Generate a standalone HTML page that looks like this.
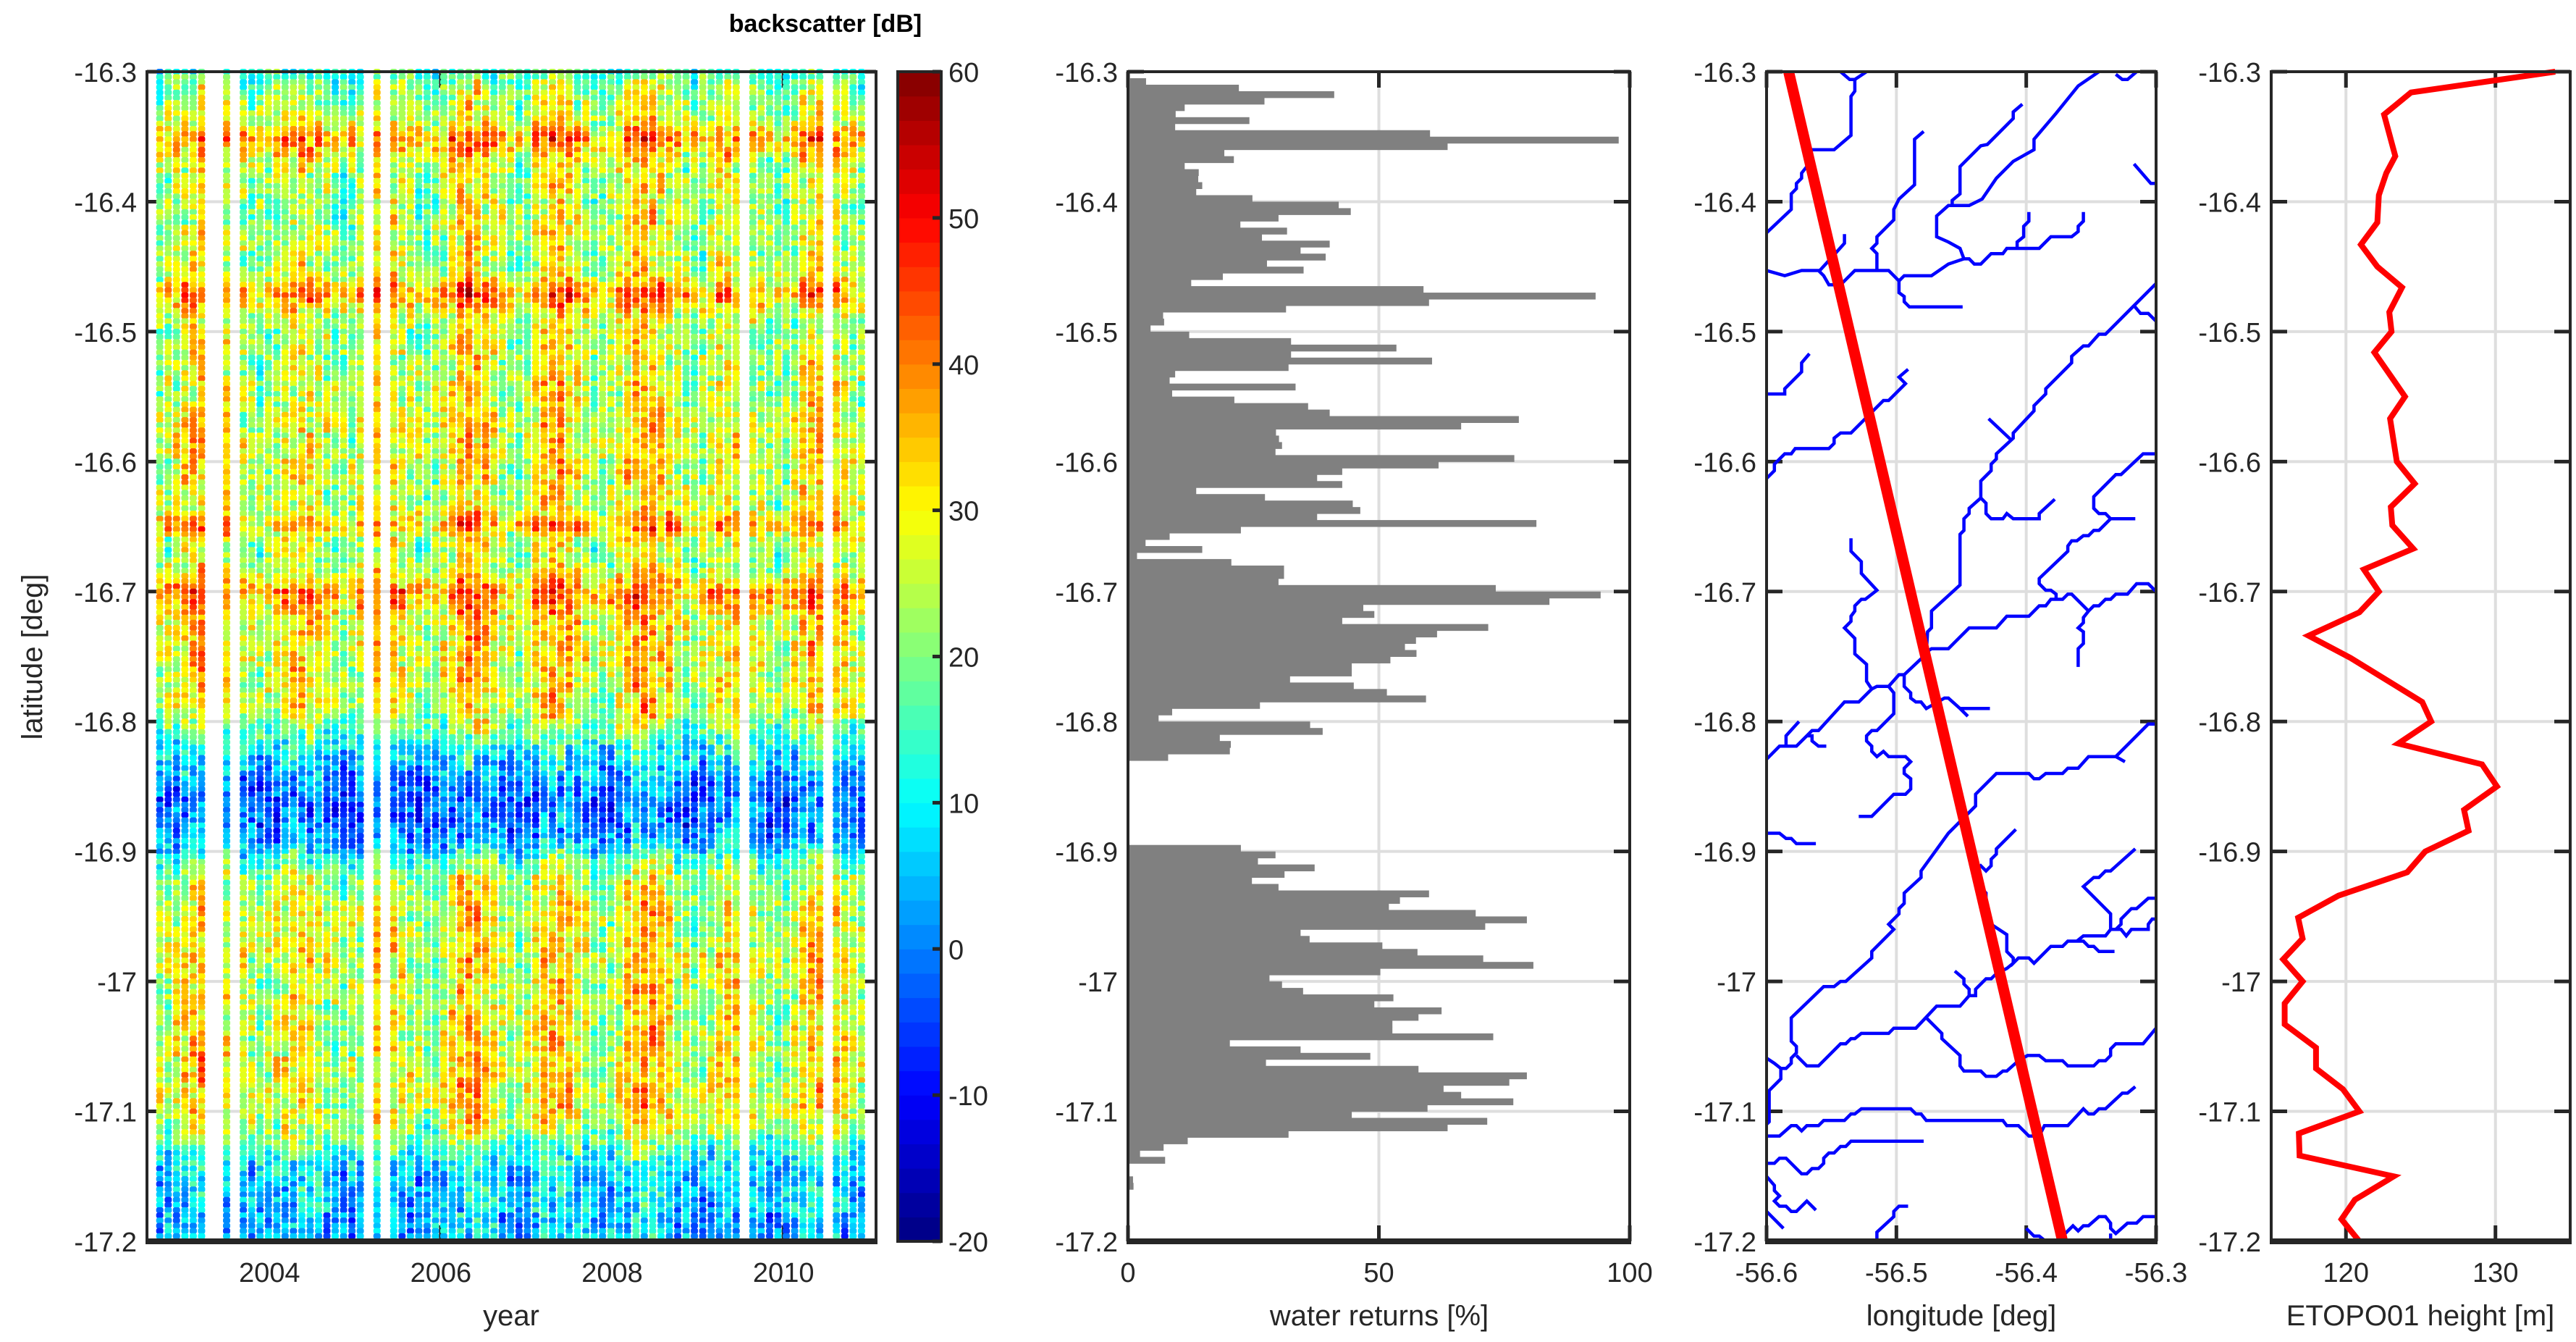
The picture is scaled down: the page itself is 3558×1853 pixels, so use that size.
<!DOCTYPE html>
<html><head><meta charset="utf-8"><style>
html,body{margin:0;padding:0;background:#fff}
svg{display:block;font-family:"Liberation Sans",Arial,sans-serif}
.tk{font-size:38px;fill:#262626}
.al{font-size:40px;fill:#262626}
</style></head><body>
<svg id="fig" xmlns="http://www.w3.org/2000/svg" width="3558" height="1853" viewBox="0 0 3558 1853">
<rect width="3558" height="1853" fill="#fff"/>
<g id="hm"></g>
<g id="cb"></g>
<g id="wr"></g>
<g id="lo"></g>
<g id="et"></g>
<text x="1140" y="44" text-anchor="middle" font-weight="bold" font-size="34" fill="#000">backscatter [dB]</text>
<text transform="translate(58,907) rotate(-90)" text-anchor="middle" class="al">latitude [deg]</text>
<text x="706" y="1830" text-anchor="middle" class="al">year</text>
<text x="1905" y="1830" text-anchor="middle" class="al">water returns [%]</text>
<text x="2709" y="1830" text-anchor="middle" class="al">longitude [deg]</text>
<text x="3343" y="1830" text-anchor="middle" class="al">ETOPO01 height [m]</text>
</svg>
<script>
const latTicks=[-16.3,-16.4,-16.5,-16.6,-16.7,-16.8,-16.9,-17.0,-17.1,-17.2];
const latTickLabels=["-16.3","-16.4","-16.5","-16.6","-16.7","-16.8","-16.9","-17","-17.1","-17.2"];
const yearTicks=[2004,2006,2008,2010];
const cbTicks=[-20,-10,0,10,20,30,40,50,60];
const waterTicks=[0,50,100];
const lonTicks=[-56.6,-56.5,-56.4,-56.3];
const lonTickLabels=["-56.6","-56.5","-56.4","-56.3"];
const etopoTicks=[120,130];
// backscatter: mean profile per 0.01 deg latitude (-16.30 .. -17.20)
const bsProfile=[15,20,23,25,28,40,34,27,25,25,24,25,25,24,24,25,29,40,33,25,24,25,26,26,27,26,27,28,28,29,28,28,27,26,30,38,27,23,25,32,41,36,31,30,30,30,29,29,28,27,23,17,11,7,4,1,-1,-1,0,2,10,18,23,25,27,28,27,27,30,28,27,26,27,28,27,28,29,29,29,29,28,25,21,14,9,7,6,6,5,5,5];
// per-cycle anomaly (dB) for each altimeter pass column
const bsCycleAnom=[-6,-4,-2,2,5, 8,7,5,2,-1, -4,-6,-7,-5,-2,1, 4,4,2,-1,-4, -7,-8,-6,-3,1, 4,4,2,-1,-4, -6,-8,-6,-2,3,8, 10,9,6,2,-2, -5,-7,-4,2,7, 10,9,6,2,-2, -5,-7,-6,-1,5,10, 12,10,6,2,-2, -6,-8,-6,-2,2, 4,3,1,-2,-5, -7,-8,-6,-2,3,7, 8,6,3,0,-3,-5];
const bsMissing=[6,7,9,25,27,70,80];
const bsStartYear=2002.72, bsCycleYears=0.0975;
// water returns per 0.005 deg bin
const waterPct=[0,3.6,22.1,41.1,27.2,11.3,9.5,24.2,9.4,60.2,97.8,63.7,19.2,21.1,11.3,14.1,14.0,14.8,13.6,24.8,
42.0,44.4,30.0,22.4,31.7,26.7,40.2,34.4,39.4,27.7,35.0,18.9,12.6,58.9,93.2,60.0,31.5,7.0,7.2,4.5,
12.2,32.5,53.5,32.5,60.6,32.0,9.4,8.3,33.4,8.8,21.2,35.9,40.2,77.9,66.4,29.5,30.1,30.7,29.4,77.0,
61.9,42.7,37.7,42.7,13.6,27.3,44.8,46.3,37.7,81.4,22.5,8.3,3.5,14.8,1.8,20.6,31.1,31.1,30.0,73.3,
94.2,84.0,46.9,49.1,42.7,71.8,61.6,57.4,55.2,57.5,52.3,44.6,44.6,32.3,45.0,51.6,59.4,26.3,8.8,6.1,
36.3,38.8,18.3,20.5,20.3,8.0,0,0,0,0,0,0,0,0,0,0,0,0,0,22.5,
29.4,25.9,37.2,31.2,24.7,30.0,60.0,54.2,52.0,69.3,79.5,71.2,34.4,36.2,50.7,57.7,70.8,80.8,50.3,28.2,
30.7,34.9,52.9,49.1,62.5,57.9,52.7,52.7,72.8,20.3,34.4,48.3,27.5,57.9,79.5,76.0,62.9,66.4,76.8,59.7,
44.6,71.6,63.7,32.0,11.9,7.1,2.4,7.4,0,0,1.0,1.1,0,0,0,0,0,0,0,0];
const waterBin=0.005;
// ETOPO01 profile
const etopoLat=[-16.300,-16.316,-16.333,-16.365,-16.378,-16.395,-16.416,-16.433,-16.450,-16.466,-16.485,-16.500,-16.516,-16.535,-16.550,-16.567,-16.600,-16.617,-16.635,-16.649,-16.667,-16.683,-16.700,-16.716,-16.734,-16.751,-16.785,-16.800,-16.817,-16.833,-16.850,-16.868,-16.884,-16.900,-16.916,-16.934,-16.951,-16.967,-16.983,-17.000,-17.017,-17.033,-17.051,-17.067,-17.083,-17.100,-17.117,-17.134,-17.150,-17.168,-17.183,-17.200];
const etopoH=[134.0,124.35,122.55,123.3,122.7,122.2,122.1,121.0,122.1,123.75,122.9,123.05,121.9,123.05,123.95,122.95,123.4,124.6,123.0,123.1,124.5,121.2,122.2,120.9,117.5,120.3,125.1,125.7,123.5,129.1,130.1,127.9,128.2,125.3,124.1,119.5,116.8,117.1,115.8,117.1,115.9,115.9,118.0,118.0,119.8,120.9,116.85,116.9,123.2,120.6,119.7,120.9];
// satellite ground track
const trackLon=[-56.583,-56.372];
const trackLat=[-16.300,-17.200];
// river network polylines [lon,lat]
const rivers=[
[[-56.344,-16.300],[-56.360,-16.311],[-56.377,-16.332],[-56.394,-16.352],[-56.394,-16.360],[-56.410,-16.369],[-56.423,-16.382],[-56.434,-16.398],[-56.444,-16.403],[-56.460,-16.403],[-56.469,-16.411],[-56.469,-16.427],[-56.460,-16.431],[-56.451,-16.436],[-56.448,-16.444],[-56.460,-16.448],[-56.473,-16.457],[-56.494,-16.457],[-56.498,-16.461],[-56.506,-16.453],[-56.532,-16.453],[-56.543,-16.464],[-56.552,-16.464],[-56.556,-16.457],[-56.560,-16.453],[-56.573,-16.453],[-56.586,-16.457],[-56.600,-16.453]],
[[-56.543,-16.300],[-56.536,-16.306],[-56.532,-16.306],[-56.532,-16.315],[-56.535,-16.319],[-56.535,-16.349],[-56.548,-16.360],[-56.567,-16.360],[-56.569,-16.365],[-56.569,-16.373],[-56.573,-16.378],[-56.573,-16.382],[-56.577,-16.386],[-56.577,-16.390],[-56.581,-16.394],[-56.581,-16.406],[-56.600,-16.424]],
[[-56.532,-16.306],[-56.523,-16.300]],
[[-56.479,-16.346],[-56.486,-16.352],[-56.486,-16.387],[-56.498,-16.398],[-56.502,-16.406],[-56.502,-16.414],[-56.515,-16.427],[-56.515,-16.432],[-56.519,-16.436],[-56.515,-16.440],[-56.515,-16.453]],
[[-56.403,-16.325],[-56.410,-16.331],[-56.410,-16.336],[-56.430,-16.356],[-56.435,-16.357],[-56.451,-16.373],[-56.451,-16.394],[-56.457,-16.399],[-56.457,-16.403]],
[[-56.448,-16.444],[-56.444,-16.444],[-56.440,-16.448],[-56.435,-16.448],[-56.427,-16.440],[-56.418,-16.440],[-56.415,-16.436],[-56.390,-16.436],[-56.381,-16.427],[-56.365,-16.427],[-56.360,-16.423],[-56.360,-16.419],[-56.356,-16.415],[-56.356,-16.408]],
[[-56.407,-16.436],[-56.407,-16.431],[-56.402,-16.427],[-56.402,-16.419],[-56.398,-16.415],[-56.398,-16.408]],
[[-56.559,-16.453],[-56.549,-16.442],[-56.540,-16.432],[-56.540,-16.425]],
[[-56.498,-16.461],[-56.498,-16.470],[-56.494,-16.473],[-56.494,-16.477],[-56.490,-16.481],[-56.449,-16.481]],
[[-56.300,-16.463],[-56.317,-16.480],[-56.339,-16.502],[-56.344,-16.502],[-56.352,-16.511],[-56.356,-16.511],[-56.365,-16.519],[-56.365,-16.524],[-56.385,-16.544],[-56.385,-16.548],[-56.394,-16.557],[-56.394,-16.561],[-56.410,-16.578],[-56.410,-16.582],[-56.423,-16.594],[-56.423,-16.598],[-56.427,-16.602],[-56.427,-16.607],[-56.435,-16.615],[-56.435,-16.628],[-56.444,-16.636],[-56.444,-16.640],[-56.448,-16.644],[-56.448,-16.653],[-56.451,-16.656],[-56.451,-16.695],[-56.473,-16.715],[-56.473,-16.728],[-56.476,-16.731],[-56.477,-16.748],[-56.494,-16.764],[-56.498,-16.764],[-56.506,-16.773],[-56.515,-16.773],[-56.519,-16.775]],
[[-56.317,-16.480],[-56.312,-16.486],[-56.306,-16.486],[-56.300,-16.492]],
[[-56.412,-16.583],[-56.429,-16.567]],
[[-56.435,-16.628],[-56.431,-16.632],[-56.431,-16.640],[-56.427,-16.644],[-56.418,-16.644],[-56.415,-16.640],[-56.410,-16.644],[-56.390,-16.644],[-56.390,-16.640],[-56.378,-16.629]],
[[-56.300,-16.594],[-56.310,-16.594],[-56.327,-16.610],[-56.331,-16.610],[-56.348,-16.627],[-56.348,-16.636],[-56.344,-16.640],[-56.339,-16.640],[-56.335,-16.644],[-56.316,-16.644]],
[[-56.335,-16.644],[-56.344,-16.653],[-56.348,-16.653],[-56.352,-16.657],[-56.356,-16.657],[-56.361,-16.661],[-56.365,-16.661],[-56.368,-16.665],[-56.368,-16.669],[-56.390,-16.690],[-56.390,-16.694],[-56.385,-16.699],[-56.381,-16.699],[-56.377,-16.702],[-56.377,-16.706]],
[[-56.300,-16.700],[-56.306,-16.694],[-56.315,-16.694],[-56.322,-16.702],[-56.331,-16.702],[-56.335,-16.706],[-56.339,-16.706],[-56.344,-16.711],[-56.348,-16.711],[-56.352,-16.715],[-56.356,-16.720],[-56.356,-16.724],[-56.360,-16.728],[-56.356,-16.731],[-56.356,-16.740],[-56.360,-16.744],[-56.360,-16.758]],
[[-56.352,-16.715],[-56.365,-16.702],[-56.368,-16.702],[-56.372,-16.706],[-56.381,-16.706],[-56.385,-16.711],[-56.390,-16.711],[-56.398,-16.719],[-56.415,-16.719],[-56.423,-16.728],[-56.444,-16.728],[-56.460,-16.744],[-56.473,-16.744],[-56.476,-16.746]],
[[-56.317,-16.371],[-56.304,-16.386],[-56.300,-16.386]],
[[-56.331,-16.302],[-56.326,-16.306],[-56.322,-16.306],[-56.315,-16.300]],
[[-56.567,-16.517],[-56.573,-16.524],[-56.573,-16.531],[-56.586,-16.544],[-56.586,-16.548],[-56.600,-16.548]],
[[-56.491,-16.529],[-56.498,-16.535],[-56.493,-16.540],[-56.506,-16.553],[-56.510,-16.553],[-56.535,-16.578],[-56.543,-16.578],[-56.548,-16.582],[-56.548,-16.586],[-56.552,-16.590],[-56.578,-16.590],[-56.581,-16.594],[-56.586,-16.594],[-56.594,-16.602],[-56.594,-16.607],[-56.600,-16.613]],
[[-56.535,-16.659],[-56.535,-16.669],[-56.527,-16.677],[-56.527,-16.686],[-56.515,-16.699],[-56.524,-16.706],[-56.527,-16.706],[-56.532,-16.711],[-56.532,-16.715],[-56.535,-16.719],[-56.535,-16.723],[-56.540,-16.728],[-56.532,-16.736],[-56.532,-16.748],[-56.523,-16.756],[-56.523,-16.769],[-56.519,-16.775]],
[[-56.506,-16.773],[-56.502,-16.778],[-56.502,-16.794],[-56.515,-16.807],[-56.519,-16.807],[-56.523,-16.811],[-56.523,-16.815],[-56.519,-16.819],[-56.519,-16.823],[-56.515,-16.827],[-56.510,-16.823],[-56.506,-16.827],[-56.493,-16.827],[-56.489,-16.831],[-56.494,-16.836],[-56.494,-16.840],[-56.489,-16.844],[-56.489,-16.852],[-56.493,-16.856],[-56.502,-16.856],[-56.519,-16.873],[-56.529,-16.873]],
[[-56.494,-16.764],[-56.494,-16.773],[-56.489,-16.778],[-56.489,-16.782],[-56.485,-16.785],[-56.481,-16.785],[-56.477,-16.790],[-56.463,-16.782],[-56.460,-16.782],[-56.451,-16.790],[-56.428,-16.790]],
[[-56.451,-16.790],[-56.445,-16.796]],
[[-56.575,-16.800],[-56.585,-16.811],[-56.585,-16.819],[-56.590,-16.819],[-56.600,-16.829]],
[[-56.585,-16.819],[-56.577,-16.819],[-56.569,-16.811],[-56.565,-16.807],[-56.560,-16.807],[-56.540,-16.785],[-56.529,-16.785],[-56.519,-16.775]],
[[-56.569,-16.811],[-56.565,-16.811],[-56.565,-16.815],[-56.560,-16.819],[-56.554,-16.819]],
[[-56.600,-16.886],[-56.590,-16.886],[-56.585,-16.890],[-56.581,-16.890],[-56.577,-16.894],[-56.562,-16.894]],
[[-56.300,-16.802],[-56.306,-16.802],[-56.331,-16.827],[-56.324,-16.831],[-56.331,-16.827],[-56.352,-16.827],[-56.360,-16.836],[-56.368,-16.836],[-56.372,-16.840],[-56.385,-16.840],[-56.390,-16.844],[-56.394,-16.844],[-56.398,-16.840],[-56.423,-16.840],[-56.439,-16.856],[-56.439,-16.865],[-56.451,-16.877],[-56.460,-16.886],[-56.481,-16.915],[-56.481,-16.920],[-56.494,-16.932],[-56.494,-16.940],[-56.498,-16.944],[-56.498,-16.948],[-56.506,-16.956],[-56.502,-16.960],[-56.519,-16.977],[-56.519,-16.982],[-56.539,-17.000],[-56.543,-17.000],[-56.548,-17.004],[-56.556,-17.004],[-56.581,-17.028],[-56.581,-17.046],[-56.577,-17.050],[-56.577,-17.055],[-56.581,-17.059],[-56.581,-17.063],[-56.585,-17.067],[-56.589,-17.067],[-56.589,-17.075],[-56.598,-17.084],[-56.598,-17.108],[-56.600,-17.110]],
[[-56.589,-17.067],[-56.594,-17.063],[-56.600,-17.059]],
[[-56.408,-16.883],[-56.423,-16.898],[-56.423,-16.902],[-56.427,-16.906],[-56.427,-16.911],[-56.431,-16.915],[-56.435,-16.911],[-56.439,-16.915],[-56.439,-16.920],[-56.435,-16.924],[-56.435,-16.928],[-56.431,-16.932],[-56.431,-16.952],[-56.427,-16.956],[-56.415,-16.964],[-56.415,-16.977],[-56.410,-16.982],[-56.410,-16.986],[-56.406,-16.982],[-56.398,-16.982],[-56.394,-16.986],[-56.381,-16.973],[-56.372,-16.973],[-56.368,-16.969],[-56.356,-16.969],[-56.352,-16.973],[-56.348,-16.973],[-56.344,-16.977],[-56.332,-16.977]],
[[-56.361,-16.969],[-56.356,-16.965],[-56.339,-16.965],[-56.335,-16.960],[-56.335,-16.948],[-56.356,-16.927],[-56.348,-16.920],[-56.344,-16.920],[-56.339,-16.915],[-56.335,-16.915],[-56.316,-16.898]],
[[-56.335,-16.960],[-56.327,-16.960],[-56.323,-16.965],[-56.319,-16.960],[-56.306,-16.960],[-56.306,-16.956],[-56.303,-16.952],[-56.300,-16.952]],
[[-56.331,-16.960],[-56.327,-16.956],[-56.327,-16.952],[-56.319,-16.944],[-56.315,-16.944],[-56.306,-16.936],[-56.300,-16.936]],
[[-56.410,-16.986],[-56.415,-16.990],[-56.423,-16.994],[-56.427,-16.998],[-56.431,-16.998],[-56.439,-17.006],[-56.439,-17.011],[-56.444,-17.011],[-56.444,-17.006],[-56.448,-17.002],[-56.448,-16.998],[-56.455,-16.992]],
[[-56.444,-17.011],[-56.451,-17.019],[-56.469,-17.019],[-56.485,-17.036],[-56.502,-17.036],[-56.506,-17.040],[-56.527,-17.040],[-56.532,-17.044],[-56.535,-17.044],[-56.539,-17.048],[-56.543,-17.048],[-56.560,-17.065],[-56.569,-17.065],[-56.577,-17.057]],
[[-56.477,-17.028],[-56.465,-17.040],[-56.465,-17.044],[-56.451,-17.057],[-56.451,-17.065],[-56.448,-17.069],[-56.435,-17.069],[-56.431,-17.073],[-56.423,-17.073],[-56.418,-17.069],[-56.415,-17.069],[-56.406,-17.061],[-56.399,-17.057],[-56.390,-17.057],[-56.385,-17.061],[-56.372,-17.061],[-56.368,-17.065],[-56.348,-17.065],[-56.344,-17.061],[-56.339,-17.061],[-56.335,-17.057],[-56.335,-17.052],[-56.331,-17.048],[-56.310,-17.048],[-56.300,-17.036]],
[[-56.600,-17.119],[-56.590,-17.119],[-56.581,-17.111],[-56.577,-17.111],[-56.573,-17.115],[-56.569,-17.111],[-56.560,-17.111],[-56.556,-17.107],[-56.540,-17.107],[-56.535,-17.102],[-56.532,-17.102],[-56.527,-17.098],[-56.489,-17.098],[-56.485,-17.102],[-56.481,-17.102],[-56.477,-17.107],[-56.418,-17.107],[-56.415,-17.111],[-56.406,-17.111],[-56.398,-17.119],[-56.390,-17.119],[-56.386,-17.111],[-56.368,-17.111],[-56.356,-17.098],[-56.352,-17.102],[-56.348,-17.102],[-56.344,-17.098],[-56.339,-17.098],[-56.326,-17.086],[-56.322,-17.086],[-56.316,-17.081]],
[[-56.600,-17.140],[-56.594,-17.140],[-56.590,-17.136],[-56.585,-17.136],[-56.573,-17.148],[-56.569,-17.148],[-56.565,-17.144],[-56.560,-17.144],[-56.556,-17.140],[-56.556,-17.136],[-56.552,-17.132],[-56.548,-17.132],[-56.543,-17.127],[-56.539,-17.127],[-56.535,-17.123],[-56.479,-17.123]],
[[-56.600,-17.150],[-56.594,-17.157],[-56.594,-17.161],[-56.590,-17.165],[-56.594,-17.169],[-56.590,-17.173],[-56.585,-17.173],[-56.581,-17.177],[-56.577,-17.177],[-56.569,-17.169],[-56.562,-17.176]],
[[-56.600,-17.177],[-56.587,-17.190]],
[[-56.515,-17.201],[-56.515,-17.193],[-56.502,-17.181],[-56.502,-17.177],[-56.498,-17.173],[-56.491,-17.173]],
[[-56.400,-17.190],[-56.394,-17.196],[-56.390,-17.196],[-56.385,-17.200],[-56.377,-17.200],[-56.372,-17.196],[-56.368,-17.192],[-56.364,-17.188],[-56.360,-17.192],[-56.356,-17.188],[-56.352,-17.188],[-56.344,-17.181],[-56.339,-17.181],[-56.335,-17.186],[-56.335,-17.190],[-56.331,-17.194],[-56.322,-17.186],[-56.315,-17.186],[-56.310,-17.181],[-56.300,-17.181]],
[[-56.335,-17.194],[-56.335,-17.201]]
];

const NS="http://www.w3.org/2000/svg";
const top_=99, bot_=1714;
function yLat(l){return top_+(-16.3-l)/0.9*(bot_-top_);}
function mk(p,tag,at){const e=document.createElementNS(NS,tag);for(const k in at)e.setAttribute(k,at[k]);p.appendChild(e);return e;}
function jet(v){v=Math.max(0,Math.min(1,v));const f=t=>Math.max(0,Math.min(1,t));
 const r=f(1.5-Math.abs(4*v-3)),g=f(1.5-Math.abs(4*v-2)),b=f(1.5-Math.abs(4*v-1));
 return "rgb("+Math.round(r*255)+","+Math.round(g*255)+","+Math.round(b*255)+")";}
function hash(a,b){let h=(a*374761393+b*668265263)|0;h=(h^(h>>>13))*1274126177|0;return ((h^(h>>>16))>>>0)/4294967296;}

function frame(g,x0,x1,name,grid){
 latTicks.forEach((t,i)=>{const y=yLat(t);
  if(grid&&i>0&&i<latTicks.length-1){const ln=mk(g,'line',{x1:x0,x2:x1,y1:y,y2:y,stroke:'#dedede','stroke-width':4});}
  const tl=mk(g,'line',{x1:x0,x2:x0+22,y1:y,y2:y,stroke:'#262626','stroke-width':5});
  const tr=mk(g,'line',{x1:x1-22,x2:x1,y1:y,y2:y,stroke:'#262626','stroke-width':5});
  const tx=mk(g,'text',{x:x0-14,y:y+14,'text-anchor':'end','class':'tk'});tx.textContent=latTickLabels[i];
  
 });
}
function box(g,x0,x1){
 const r=mk(g,'rect',{x:x0,y:top_,width:x1-x0,height:bot_-top_,fill:'none',stroke:'#262626','stroke-width':4});
 
 const b=mk(g,'line',{x1:x0-2,x2:x1+2,y1:bot_,y2:bot_,stroke:'#262626','stroke-width':8});
 
}
function xticks(g,ticks,labels,xf,x0,x1,grid){
 ticks.forEach((t,i)=>{const x=xf(t);
  if(grid&&x>x0+5&&x<x1-5){const ln=mk(g,'line',{x1:x,x2:x,y1:top_,y2:bot_,stroke:'#dedede','stroke-width':4});}
  const a=mk(g,'line',{x1:x,x2:x,y1:bot_-22,y2:bot_,stroke:'#262626','stroke-width':5});
  const b=mk(g,'line',{x1:x,x2:x,y1:top_,y2:top_+22,stroke:'#262626','stroke-width':5});
  const tx=mk(g,'text',{x:x,y:1770,'text-anchor':'middle','class':'tk'});tx.textContent=labels[i];
  
 });
}

/* ---- heatmap ---- */
(function(){
 const g=document.getElementById('hm');const X0=203,X1=1210,Y0=2002.57,Y1=2011.08;
 const xf=t=>X0+(t-Y0)/(Y1-Y0)*(X1-X0);
 frame(g,X0,X1,'hm',true);
 xticks(g,yearTicks,yearTicks.map(String),xf,X0,X1,true);
 const cells=mk(g,'g',{});
 const step=0.004;const nR=Math.round(0.9/step)+1;
 function prof(l){const p=(-16.3-l)/0.01;const i=Math.min(bsProfile.length-2,Math.floor(p));const f=p-i;return bsProfile[i]*(1-f)+bsProfile[i+1]*f;}
 function amp(l){if(l>-16.305)return 0.3;if(l>-16.81)return 0.8;if(l>-16.9)return 0.4;if(l>-17.12)return 0.8;return 0.45;}
 bsCycleAnom.forEach((a,c)=>{
  if(bsMissing.indexOf(c)>=0)return;
  const t=bsStartYear+c*bsCycleYears;const x=xf(t);
  for(let r=0;r<nR;r++){
   const l=-16.3-r*step;
   const n=(hash(c,r)-0.5)*16+(hash(c+101,Math.floor(r/5))-0.5)*12;
   const v=prof(l)+amp(l)*a+n;
   const y=yLat(l);
   const e=mk(cells,'rect',{x:(x-5).toFixed(1),y:(y-4).toFixed(1),width:10,height:8,rx:3,fill:jet((v+20)/80)});
   
   
  }
 });
 box(g,X0,X1);
})();

/* ---- colorbar ---- */
(function(){
 const g=document.getElementById('cb');const X0=1240,X1=1300;
 const yf=v=>bot_-(v+20)/80*(bot_-top_);
 const nb=48;
 for(let i=0;i<nb;i++){const v0=-20+i*80/nb,v1=v0+80/nb;
  const e=mk(g,'rect',{x:X0,y:yf(v1),width:X1-X0,height:yf(v0)-yf(v1)+0.6,fill:jet((v0+40/nb+20)/80)});
  }
 const r=mk(g,'rect',{x:X0,y:top_,width:X1-X0,height:bot_-top_,fill:'none',stroke:'#262626','stroke-width':4});
 
 cbTicks.forEach(v=>{const y=yf(v);
  const tl=mk(g,'line',{x1:X1-12,x2:X1,y1:y,y2:y,stroke:'#262626','stroke-width':5});
  const tx=mk(g,'text',{x:X1+10,y:y+14,'class':'tk'});tx.textContent=String(v);});
})();

/* ---- water returns ---- */
(function(){
 const g=document.getElementById('wr');const X0=1558,X1=2251;const xf=v=>X0+v/100*(X1-X0);
 frame(g,X0,X1,'wr',true);
 xticks(g,waterTicks,waterTicks.map(String),xf,X0,X1,true);
 waterPct.forEach((v,i)=>{if(v<=0)return;const y0=yLat(-16.3-i*waterBin),y1=yLat(-16.3-(i+1)*waterBin);
  const e=mk(g,'rect',{x:X0,y:y0,width:xf(v)-X0,height:y1-y0+0.5,fill:'#808080'});
  
  });
 box(g,X0,X1);
})();

/* ---- longitude / rivers ---- */
(function(){
 const g=document.getElementById('lo');const X0=2440,X1=2978;const xf=v=>X0+(v+56.6)/0.3*(X1-X0);
 frame(g,X0,X1,'lo',true);
 xticks(g,lonTicks,lonTickLabels,xf,X0,X1,true);
 const cp=mk(g,'clipPath',{id:'loclip'});mk(cp,'rect',{x:X0,y:top_,width:X1-X0,height:bot_-top_});
 const rg=mk(g,'g',{'clip-path':'url(#loclip)'});
 rivers.forEach(r=>{const e=mk(rg,'polyline',{points:r.map(p=>xf(p[0]).toFixed(1)+','+yLat(p[1]).toFixed(1)).join(' '),fill:'none',stroke:'#0000ff','stroke-width':4.5,'stroke-linejoin':'miter'});
  
  });
 const tr=mk(rg,'polyline',{points:trackLon.map((v,i)=>xf(v)+','+yLat(trackLat[i])).join(' '),fill:'none',stroke:'#ff0000','stroke-width':15});
 
 box(g,X0,X1);
})();

/* ---- ETOPO ---- */
(function(){
 const g=document.getElementById('et');const X0=3137,X1=3550;const xf=v=>X0+(v-115)/20*(X1-X0);
 frame(g,X0,X1,'et',true);
 xticks(g,etopoTicks,etopoTicks.map(String),xf,X0,X1,true);
 const e=mk(g,'polyline',{points:etopoH.map((h,i)=>xf(h).toFixed(1)+','+yLat(etopoLat[i]).toFixed(1)).join(' '),fill:'none',stroke:'#ff0000','stroke-width':8,'stroke-linejoin':'miter'});
 
 box(g,X0,X1);
})();
</script>
</body></html>
